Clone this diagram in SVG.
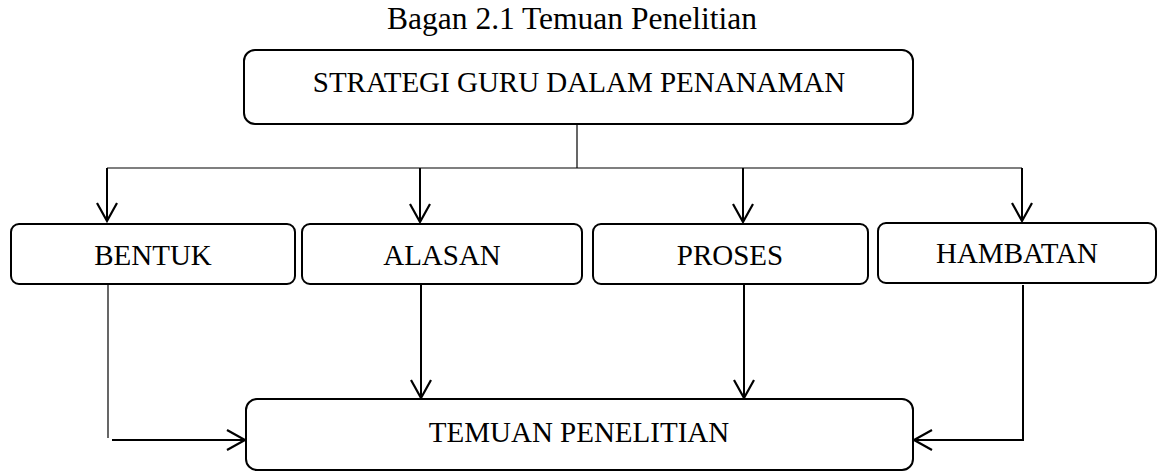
<svg xmlns="http://www.w3.org/2000/svg" width="1158" height="472" viewBox="0 0 1158 472">
  <style>
    .box { fill: #ffffff; stroke: #000000; stroke-width: 2; }
    .label { font-family: "Liberation Serif", "Times New Roman", serif; font-size: 29px; fill: #000000; text-anchor: middle; }
    .title { font-family: "Liberation Serif", "Times New Roman", serif; font-size: 31.5px; fill: #000000; text-anchor: middle; }
    .wire { fill: none; stroke: #000000; stroke-width: 2; }
    .thin { fill: none; stroke: #000000; stroke-width: 1.2; }
    .arrow { fill: none; stroke: #000000; stroke-width: 2; marker-end: url(#openHead); }
  </style>
  <defs>
    <marker id="openHead" markerUnits="userSpaceOnUse" markerWidth="24" markerHeight="24" viewBox="-20 -12 24 24" refX="0" refY="0" orient="auto">
      <path d="M-18,-10 L0,0 L-18,10" fill="none" stroke="#000000" stroke-width="2.2"/>
    </marker>
  </defs>

  <rect width="1158" height="472" fill="#ffffff"/>

  <text class="title" x="572" y="29">Bagan 2.1 Temuan Penelitian</text>

  <g id="connectors">
    <!-- trunk from the strategy box to the distribution bar -->
    <line class="thin" x1="577" y1="125" x2="577" y2="168"/>
    <line class="thin" x1="107" y1="168" x2="1022" y2="168"/>
    <!-- drops into the four aspect boxes -->
    <line class="arrow" x1="107" y1="168" x2="107" y2="221"/>
    <line class="arrow" x1="420" y1="168" x2="420" y2="222"/>
    <line class="arrow" x1="743" y1="168" x2="743" y2="222"/>
    <line class="arrow" x1="1022" y1="168" x2="1022" y2="221"/>
    <!-- aspect boxes into the findings box -->
    <line class="thin" x1="108" y1="285" x2="108" y2="438"/>
    <line class="arrow" x1="112" y1="440" x2="245" y2="440"/>
    <line class="arrow" x1="421" y1="285" x2="421" y2="398"/>
    <line class="arrow" x1="744" y1="285" x2="744" y2="398"/>
    <polyline class="arrow" points="1023,285 1023,440 914,440"/>
  </g>

  <g id="strategi">
    <rect class="box" x="244" y="50" width="669" height="74" rx="11" ry="11"/>
    <text class="label" x="579" y="92">STRATEGI GURU DALAM PENANAMAN</text>
  </g>

  <g id="bentuk">
    <rect class="box" x="11" y="224" width="284" height="60" rx="8" ry="8"/>
    <text class="label" x="153" y="265">BENTUK</text>
  </g>

  <g id="alasan">
    <rect class="box" x="302" y="224" width="280" height="60" rx="8" ry="8"/>
    <text class="label" x="442" y="265">ALASAN</text>
  </g>

  <g id="proses">
    <rect class="box" x="593" y="224" width="275" height="60" rx="8" ry="8"/>
    <text class="label" x="730" y="265">PROSES</text>
  </g>

  <g id="hambatan">
    <rect class="box" x="878" y="223" width="278" height="60" rx="8" ry="8"/>
    <text class="label" x="1017" y="263">HAMBATAN</text>
  </g>

  <g id="temuan">
    <rect class="box" x="246" y="399" width="667" height="71" rx="11" ry="11"/>
    <text class="label" x="579" y="442">TEMUAN PENELITIAN</text>
  </g>
</svg>
